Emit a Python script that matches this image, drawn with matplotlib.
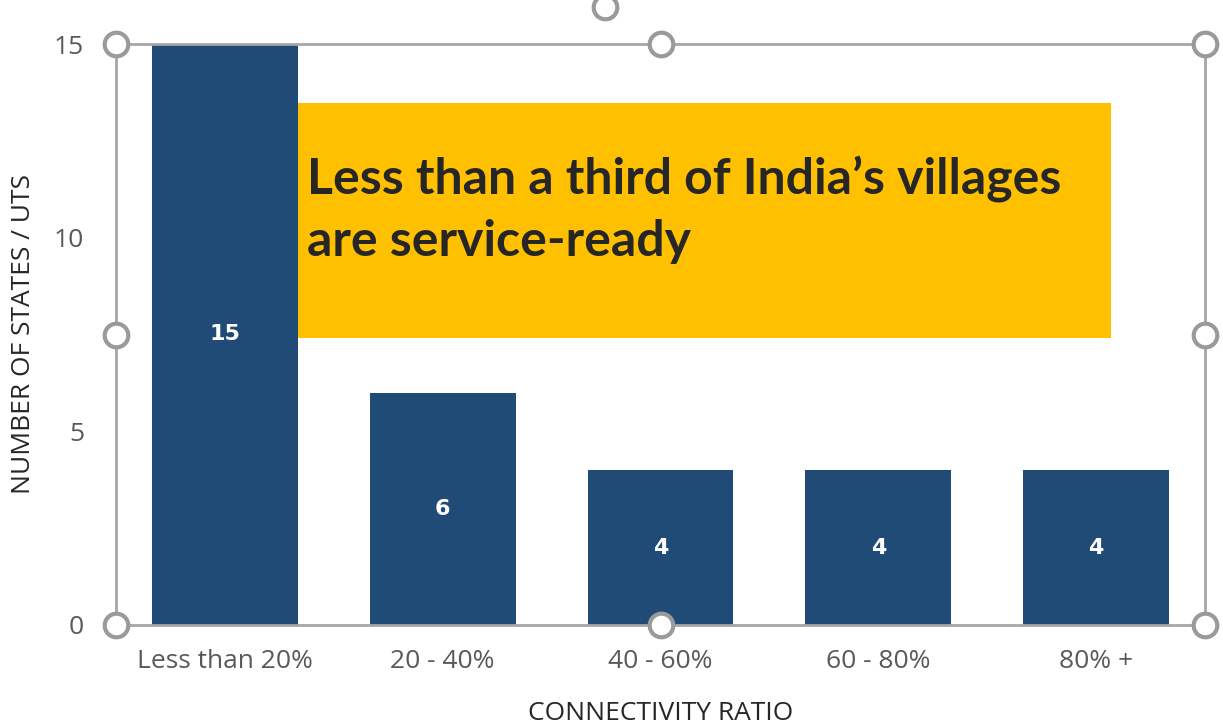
import matplotlib.pyplot as plt
import numpy as np
from matplotlib.patches import Rectangle
from matplotlib.lines import Line2D

categories = ['Less than 20%', '20 - 40%', '40 - 60%', '60 - 80%', '80% +']
states = [15, 6, 4, 4, 4]
headline = 'Less than a third of India\u2019s villages\nare service-ready'

W, H = 1223, 727
fig = plt.figure(figsize=(W / 100, H / 100), dpi=100)
ax = fig.add_axes([116 / W, 1 - 625 / H, (1205 - 116) / W, (625 - 44) / H])

x = np.arange(len(categories))
bars = ax.bar(x, states, width=0.67, color='#1F4B76', zorder=2)
for rect, v in zip(bars, states):
    ax.text(rect.get_x() + rect.get_width() / 2, v / 2, str(v), ha='center', va='center',
            color='white', fontsize=16, fontweight='bold', family='DejaVu Sans', zorder=3)

ax.set_xlim(-0.5, 4.5)
ax.set_ylim(0, 15)
ax.set_yticks([0, 5, 10, 15])
ax.set_xticks(x)
ax.set_xticklabels(categories)
ax.tick_params(length=0, labelsize=19, labelcolor='#595959')
ax.tick_params(axis='x', pad=17)
ax.tick_params(axis='y', pad=23)
for lbl in ax.get_xticklabels() + ax.get_yticklabels():
    lbl.set_family('Open Sans')
for s in ax.spines.values():
    s.set_color('#A6A6A6')
    s.set_linewidth(2)
    s.set_zorder(4)

ax.set_xlabel('CONNECTIVITY RATIO', fontsize=19, color='#262626', family='Open Sans', va='center')
ax.set_ylabel('NUMBER OF STATES / UTS', fontsize=19, color='#262626', family='Open Sans', va='center')
ax.xaxis.set_label_coords(0.5, (625 - 713) / 581)
ax.yaxis.set_label_coords((24 - 116) / 1089, 0.5)

# yellow callout box
fig.patches.append(Rectangle((298 / W, 1 - 338 / H), (1111 - 298) / W, (338 - 103) / H,
                             transform=fig.transFigure, facecolor='#FFC000', edgecolor='none', zorder=5))
fig.text(307 / W, 1 - 210 / H, headline, ha='left', va='center', fontsize=36, fontweight='bold',
         color='#262626', family='Lato', linespacing=1.45, zorder=6)

# selection handles
hx = [0, 0.5, 1, 0, 1, 0, 0.5, 1]
hy = [1, 1, 1, 0.5, 0.5, 0, 0, 0]
ax.plot(hx, hy, 'o', transform=ax.transAxes, clip_on=False, markersize=17,
        markerfacecolor='white', markeredgecolor='#9A9A9A', markeredgewidth=3, zorder=10)
# rotation handle, partly cut off at the top edge
fig.lines.append(Line2D([605 / W], [1 - 7 / H], transform=fig.transFigure, marker='o', markersize=17,
                        markerfacecolor='white', markeredgecolor='#9A9A9A', markeredgewidth=3, zorder=10))

fig.savefig('out.png', dpi=100)
